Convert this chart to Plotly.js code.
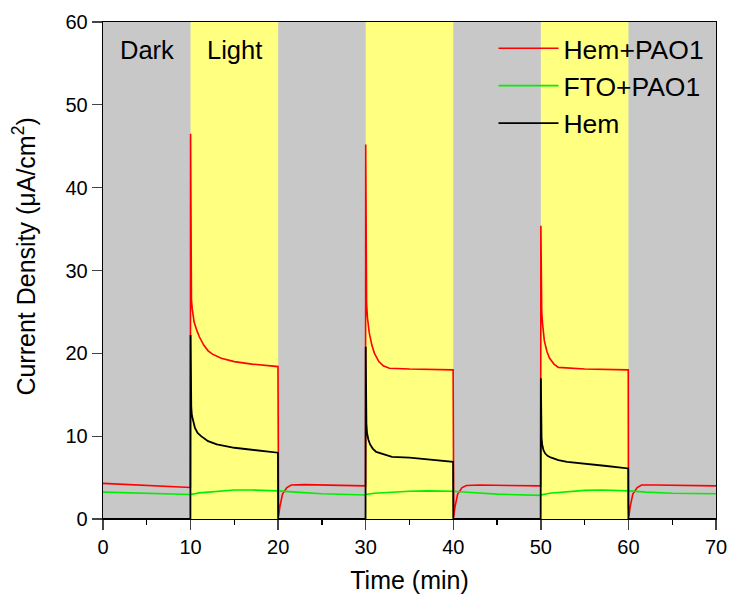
<!DOCTYPE html>
<html>
<head>
<meta charset="utf-8">
<script src="https://cdn.plot.ly/plotly-3.0.1.min.js"></script>
<style>html,body{margin:0;padding:0;background:#fff;}#chart{width:729px;height:594px;}</style>
</head>
<body>
<div id="chart"></div>
<script>
// Hem+PAO1 (red)
const tRed = [0, 2, 5, 8, 9.98, 10, 10.02, 10.05, 10.1, 10.2, 10.4, 10.7, 11, 11.5, 12, 12.5, 13.5, 15, 17, 19.98,
  20, 20.05, 20.2, 20.5, 21, 21.5, 23, 26, 29.98,
  30, 30.02, 30.05, 30.1, 30.2, 30.4, 30.7, 31, 31.5, 32, 32.7, 35, 39.98,
  40, 40.05, 40.2, 40.5, 41, 41.5, 43, 46, 49.98,
  50, 50.02, 50.05, 50.1, 50.2, 50.4, 50.7, 51, 51.5, 52, 55, 59.98,
  60, 60.05, 60.2, 60.5, 61, 61.5, 63, 66, 70];
const yRed = [4.3, 4.2, 4.05, 3.9, 3.8, 46.5, 39.4, 28, 26.5, 25.3, 23.8, 22.8, 22.0, 21.0, 20.3, 19.9, 19.4, 19.0, 18.7, 18.4,
  1.5, 0.3, 1.5, 3.0, 3.8, 4.1, 4.15, 4.1, 4.0,
  45.2, 38, 28.9, 26, 24.3, 22.5, 21.0, 20.0, 19.0, 18.5, 18.2, 18.1, 18.0,
  1.5, 0.3, 1.5, 3.0, 3.8, 4.05, 4.1, 4.05, 4.0,
  35.4, 31, 27.4, 25, 23.5, 21.5, 20.2, 19.4, 18.7, 18.3, 18.1, 18.0,
  1.5, 0.3, 1.5, 3.0, 3.8, 4.1, 4.1, 4.05, 4.0];

// FTO+PAO1 (green)
const tGreen = [0, 3, 6, 9.98, 10, 11, 13, 15, 17, 19.98, 20, 22, 25, 29.98, 30, 31, 33, 35, 37, 39.98,
  40, 42, 45, 49.98, 50, 51, 53, 55, 57, 59.98, 60, 62, 65, 70];
const yGreen = [3.25, 3.15, 3.0, 2.9, 2.95, 3.15, 3.35, 3.5, 3.5, 3.45, 3.4, 3.25, 3.05, 2.9, 2.95, 3.1, 3.25, 3.35, 3.4, 3.4,
  3.35, 3.2, 3.0, 2.85, 2.9, 3.1, 3.3, 3.45, 3.5, 3.45, 3.4, 3.25, 3.1, 3.05];

// Hem (black)
const tBlack = [0, 9.98, 10, 10.03, 10.08, 10.15, 10.3, 10.5, 10.8, 11.2, 12, 13, 15, 17.5, 19.98,
  20, 20.1, 20.3, 21, 25, 29.98,
  30, 30.03, 30.08, 30.15, 30.3, 30.5, 30.8, 31.2, 32, 33, 35, 37.5, 39.98,
  40, 40.1, 40.3, 41, 45, 49.98,
  50, 50.03, 50.08, 50.15, 50.3, 50.5, 50.8, 51.2, 52, 53, 55, 57.5, 59.98,
  60, 60.1, 60.3, 61, 65, 70];
const yBlack = [0, 0, 22.2, 15.0, 13.5, 12.5, 11.8, 11.0, 10.4, 10.0, 9.4, 9.0, 8.6, 8.3, 8.0,
  0, 0, 0, 0, 0, 0,
  20.8, 14, 11.5, 10.4, 9.6, 9.0, 8.5, 8.1, 7.8, 7.5, 7.4, 7.15, 6.9,
  0, 0, 0, 0, 0, 0,
  17.0, 12, 9.8, 9.0, 8.3, 7.9, 7.6, 7.4, 7.1, 6.9, 6.7, 6.4, 6.1,
  0, 0, 0, 0, 0, 0];

const lightStarts = [10, 30, 50];
const lightEnds = [20, 40, 60];
const xMinorTicks = [5, 15, 25, 35, 45, 55, 65];
const seriesNames = ['Hem+PAO1', 'FTO+PAO1', 'Hem'];
const seriesColors = ['#ff0000', '#00ee00', '#000000'];

const traces = [
  {x: tRed, y: yRed, name: seriesNames[0], line: {color: seriesColors[0], width: 1.6}},
  {x: tGreen, y: yGreen, name: seriesNames[1], line: {color: seriesColors[1], width: 1.6}},
  {x: tBlack, y: yBlack, name: seriesNames[2], line: {color: seriesColors[2], width: 1.8}}
].map(t => Object.assign({type: 'scatter', mode: 'lines'}, t));

const shapes = [];
lightStarts.forEach((s, i) => shapes.push({type: 'rect', xref: 'x', yref: 'y', x0: s, x1: lightEnds[i], y0: 0, y1: 60,
  fillcolor: '#ffff80', line: {width: 0}, layer: 'below'}));

const font = 'Liberation Sans, Arial, sans-serif';
const layout = {
  width: 729, height: 594,
  margin: {l: 103, r: 13, t: 22, b: 75},
  paper_bgcolor: '#ffffff', plot_bgcolor: '#c8c8c8',
  font: {family: font, color: '#000', size: 20},
  showlegend: true,
  legend: {x: 0.637, y: 0.995, xanchor: 'left', yanchor: 'top', bgcolor: 'rgba(0,0,0,0)',
    font: {size: 26.5, family: font}, tracegroupgap: 0, itemwidth: 60, traceorder: 'normal'},
  xaxis: {range: [0, 70], tick0: 0, dtick: 10, ticks: 'outside', ticklen: 10, tickwidth: 1.3,
    minor: {tickmode: 'array', tickvals: xMinorTicks, ticks: 'outside', ticklen: 5, tickwidth: 1.3, tickcolor: '#000', showgrid: false},
    showgrid: false, zeroline: false, showline: true, linecolor: '#000', linewidth: 1.3, mirror: true,
    tickfont: {size: 20}, title: {text: 'Time (min)', font: {size: 25}, standoff: 14}},
  yaxis: {range: [0, 60], tick0: 0, dtick: 10, ticks: 'outside', ticklen: 10, tickwidth: 1.3,
    showgrid: false, zeroline: false, showline: true, linecolor: '#000', linewidth: 1.3, mirror: true,
    tickfont: {size: 20}},
  shapes: shapes,
  annotations: [
    {text: 'Dark', xref: 'x', yref: 'y', x: 5, y: 56.6, showarrow: false, font: {size: 25.5}},
    {text: 'Light', xref: 'x', yref: 'y', x: 15, y: 56.6, showarrow: false, font: {size: 25.5}},
    {text: 'Current Density (μA/cm<sup>2</sup>)', xref: 'paper', yref: 'paper', x: -0.128, y: 0.527,
      xanchor: 'center', yanchor: 'middle', textangle: -90, showarrow: false, font: {size: 25}}
  ]
};
Plotly.newPlot('chart', traces, layout, {displayModeBar: false, staticPlot: true});
</script>
</body>
</html>
